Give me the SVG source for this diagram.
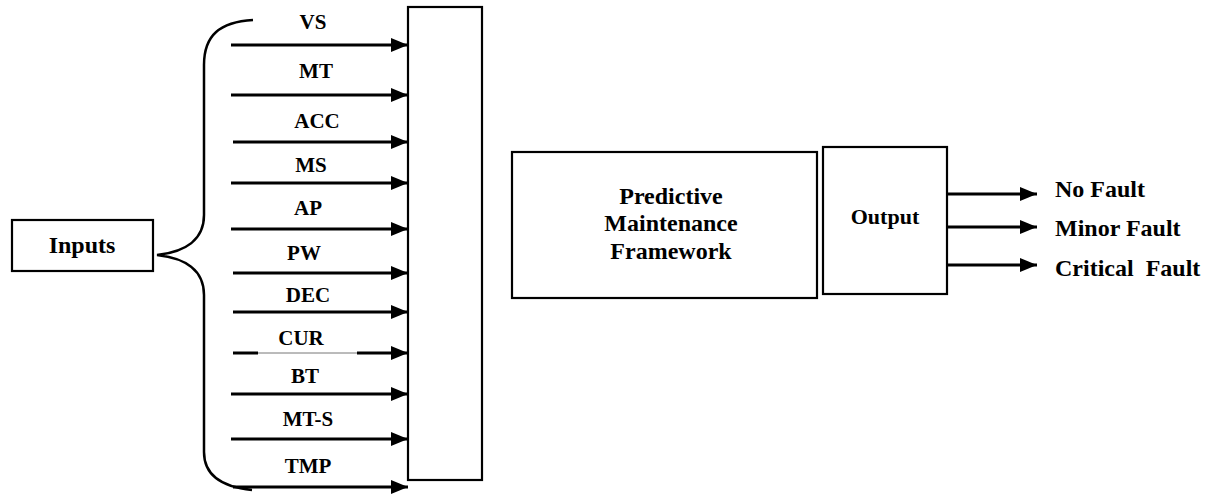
<svg xmlns="http://www.w3.org/2000/svg" width="1212" height="495" viewBox="0 0 1212 495">
  <style>
    .box { fill: #fff; stroke: #000; stroke-width: 2.2; }
    .lbl { font-family: "Liberation Serif", "Times New Roman", serif; font-weight: bold; font-size: 21px; fill: #000; }
    .big { font-size: 24px; }
    .mid { font-size: 22px; }
    .arr { stroke: #000; stroke-width: 3; fill: none; marker-end: url(#head); }
    .brace { stroke: #000; stroke-width: 2.5; fill: none; }
  </style>
  <defs>
    <marker id="head" markerUnits="userSpaceOnUse" markerWidth="17" markerHeight="14" refX="17" refY="7" orient="auto">
      <path d="M0,0 L17,7 L0,14 Z" fill="#000"/>
    </marker>
  </defs>

  <rect width="1212" height="495" fill="#fff"/>

  <g id="inputs">
    <rect class="box" x="12" y="220" width="141" height="51"/>
    <text class="lbl big" x="82" y="253" text-anchor="middle">Inputs</text>
  </g>

  <g id="brace">
    <path class="brace" d="M253,20 C220,22 204,35 204,65 L204,215 C204,240 185,252 157,255 C185,258 204,270 204,295 L204,452 C204,475 222,487 252,490"/>
  </g>

  <g id="hub">
    <rect class="box" x="408" y="7" width="74" height="473"/>
  </g>

  <g id="framework">
    <rect class="box" x="512" y="152" width="305" height="146"/>
    <text class="lbl big" x="671" y="204" text-anchor="middle">Predictive</text>
    <text class="lbl big" x="671" y="231" text-anchor="middle">Maintenance</text>
    <text class="lbl big" x="671" y="259" text-anchor="middle">Framework</text>
  </g>

  <g id="output">
    <rect class="box" x="823" y="147" width="124" height="147"/>
    <text class="lbl mid" x="885" y="224" text-anchor="middle">Output</text>
  </g>

  <g id="connectors">
    <line class="arr" x1="231" y1="45" x2="408" y2="45"/>
    <line class="arr" x1="231" y1="95" x2="408" y2="95"/>
    <line class="arr" x1="233" y1="142" x2="408" y2="142"/>
    <line class="arr" x1="231" y1="183" x2="408" y2="183"/>
    <line class="arr" x1="231" y1="229" x2="408" y2="229"/>
    <line class="arr" x1="233" y1="273" x2="408" y2="273"/>
    <line class="arr" x1="233" y1="312" x2="408" y2="312"/>
    <line stroke="#000" stroke-width="3" x1="233" y1="353" x2="258" y2="353"/>
    <line stroke="#777" stroke-width="1" x1="258" y1="353" x2="357" y2="353"/>
    <line class="arr" x1="357" y1="353" x2="408" y2="353"/>
    <line class="arr" x1="231" y1="394" x2="408" y2="394"/>
    <line class="arr" x1="231" y1="439" x2="408" y2="439"/>
    <line class="arr" x1="233" y1="487" x2="408" y2="487"/>

    <line class="arr" x1="947" y1="194" x2="1037" y2="194"/>
    <line class="arr" x1="947" y1="227" x2="1037" y2="227"/>
    <line class="arr" x1="947" y1="265" x2="1037" y2="265"/>
  </g>

  <g id="input-labels">
    <text class="lbl" x="313" y="29" text-anchor="middle">VS</text>
    <text class="lbl" x="316" y="78" text-anchor="middle">MT</text>
    <text class="lbl" x="317" y="128" text-anchor="middle">ACC</text>
    <text class="lbl" x="311" y="172" text-anchor="middle">MS</text>
    <text class="lbl" x="308" y="215" text-anchor="middle">AP</text>
    <text class="lbl" x="304" y="260" text-anchor="middle">PW</text>
    <text class="lbl" x="308" y="302" text-anchor="middle">DEC</text>
    <text class="lbl" x="301" y="345" text-anchor="middle">CUR</text>
    <text class="lbl" x="305" y="383" text-anchor="middle">BT</text>
    <text class="lbl" x="308" y="426" text-anchor="middle">MT-S</text>
    <text class="lbl" x="308" y="473" text-anchor="middle">TMP</text>
  </g>

  <g id="results">
    <text class="lbl big" x="1055" y="197">No Fault</text>
    <text class="lbl big" x="1055" y="236">Minor Fault</text>
    <text class="lbl big" x="1055" y="276" xml:space="preserve">Critical  Fault</text>
  </g>
</svg>
